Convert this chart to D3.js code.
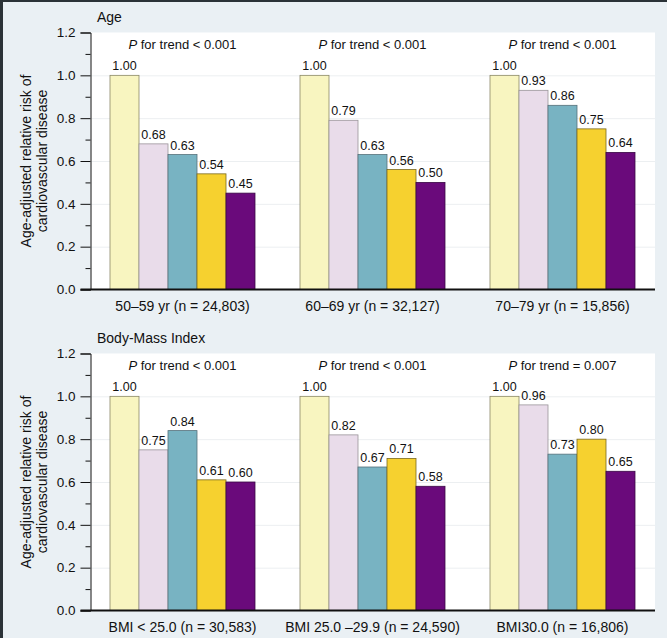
<!DOCTYPE html>
<html><head><meta charset="utf-8">
<script src="https://cdn.jsdelivr.net/npm/d3@7"></script>
<style>
html,body{margin:0;padding:0;background:#eaf0f4;}
svg{display:block;font-family:Arial,"Liberation Sans",sans-serif;}
</style></head>
<body>
<svg id="chart" width="667" height="638"></svg>
<script>
// ---- data ----
const series = ["s1","s2","s3","s4","s5"];
const seriesColors = ["#f8f5c0","#e9dcea","#78b3c2","#f6d12f","#6a0a7b"];
const seriesStroke = ["#8a8766","#9a949a","#55707a","#7a6a20","#3a0845"];

const ageTitle = "Age";
const ageGroups = ["50\u201359 yr (n = 24,803)","60\u201369 yr (n = 32,127)","70\u201379 yr (n = 15,856)"];
const ageValues = [
  [1.00,0.68,0.63,0.54,0.45],
  [1.00,0.79,0.63,0.56,0.50],
  [1.00,0.93,0.86,0.75,0.64]
];
const ageTrend = ["< 0.001","< 0.001","< 0.001"];

const bmiTitle = "Body-Mass Index";
const bmiGroups = ["BMI < 25.0 (n = 30,583)","BMI 25.0 \u201329.9 (n = 24,590)","BMI30.0 (n = 16,806)"];
const bmiValues = [
  [1.00,0.75,0.84,0.61,0.60],
  [1.00,0.82,0.67,0.71,0.58],
  [1.00,0.96,0.73,0.80,0.65]
];
const bmiTrend = ["< 0.001","< 0.001","= 0.007"];

const yTicks = [0,0.2,0.4,0.6,0.8,1.0,1.2];
const yMinorTicks = [0.1,0.3,0.5,0.7,0.9,1.1];
const yLabelLines = ["Age-adjusted relative risk of","cardiovascular disease"];

// ---- drawing ----
const svg = d3.select("#chart");
svg.append("rect").attr("x",0).attr("y",0).attr("width",667).attr("height",638).attr("fill","#eaf0f4");
svg.append("rect").attr("x",0).attr("y",0).attr("width",667).attr("height",2).attr("fill","#2b3237");
svg.append("rect").attr("x",0).attr("y",0).attr("width",3).attr("height",638).attr("fill","#2b3237");

const plotLeft = 90.5, plotRight = 655;

function panel(top, bottom, title, groups, values, trends){
  const g = svg.append("g");
  const y = d3.scaleLinear().domain([0,1.2]).range([bottom, top]);
  const x0 = d3.scaleBand().domain(groups).range([87.5, 657.5]).padding(0);
  const x1 = d3.scaleBand().domain(series).range([0, x0.bandwidth()]).paddingInner(0).paddingOuter(22.5/29);

  // plot background
  g.append("rect").attr("x",plotLeft).attr("y",y(1.2)).attr("width",plotRight-plotLeft)
    .attr("height",y(0)-y(1.2)).attr("fill","#ffffff");
  // faint gridlines
  g.selectAll("line.grid").data(yTicks.filter(d=>d>0 && d<1.2)).join("line")
    .attr("class","grid").attr("x1",plotLeft).attr("x2",plotRight)
    .attr("y1",d=>y(d)+0.5).attr("y2",d=>y(d)+0.5)
    .attr("stroke","#eceff1").attr("stroke-width",1);

  // title
  g.append("text").attr("x",97).attr("y",top-11).attr("font-size",14).attr("fill","#111").text(title);

  // bars
  groups.forEach((grp,gi)=>{
    const gg = g.append("g").attr("transform",`translate(${x0(grp)},0)`);
    gg.selectAll("rect").data(values[gi]).join("rect")
      .attr("x",(d,i)=>x1(series[i]))
      .attr("width",x1.bandwidth())
      .attr("y",d=>y(d))
      .attr("height",d=>y(0)-y(d))
      .attr("fill",(d,i)=>seriesColors[i])
      .attr("stroke",(d,i)=>seriesStroke[i])
      .attr("stroke-width",0.8);
    gg.selectAll("text.val").data(values[gi]).join("text")
      .attr("class","val")
      .attr("x",(d,i)=>x1(series[i])+x1.bandwidth()/2)
      .attr("y",d=>y(d)-5)
      .attr("text-anchor","middle").attr("font-size",12.5).attr("fill","#111")
      .text(d=>d.toFixed(2));
    const t = gg.append("text").attr("x",x0.bandwidth()/2).attr("y",top+16)
      .attr("text-anchor","middle").attr("font-size",13).attr("fill","#111");
    t.append("tspan").attr("font-style","italic").text("P");
    t.append("tspan").text(" for trend " + trends[gi]);
    // category label
    gg.append("text").attr("x",x0.bandwidth()/2).attr("y",bottom+21)
      .attr("text-anchor","middle").attr("font-size",14).attr("fill","#111").text(grp);
  });

  // y axis
  const axis = d3.axisLeft(y).tickValues(yTicks).tickFormat(d3.format(".1f")).tickSize(10).tickPadding(5);
  const ag = g.append("g").attr("transform",`translate(${plotLeft},0)`).call(axis);
  ag.select(".domain").attr("stroke","#111").attr("stroke-width",1);
  ag.selectAll(".tick line").attr("stroke","#111");
  ag.selectAll(".tick text").attr("font-size",13.5).attr("fill","#111").attr("font-family","Arial, 'Liberation Sans', sans-serif");
  const minor = d3.axisLeft(y).tickValues(yMinorTicks).tickFormat("").tickSize(5);
  const mg = g.append("g").attr("transform",`translate(${plotLeft},0)`).call(minor);
  mg.select(".domain").remove();
  mg.selectAll(".tick line").attr("stroke","#111");

  // x axis line
  g.append("line").attr("x1",80.5).attr("x2",plotRight).attr("y1",y(0)).attr("y2",y(0))
    .attr("stroke","#111").attr("stroke-width",2);

  // y label
  const cy = (top+bottom)/2;
  const yl = g.append("text").attr("transform",`translate(31,${cy}) rotate(-90)`)
    .attr("text-anchor","middle").attr("font-size",14).attr("fill","#111");
  yLabelLines.forEach((l,i)=>{
    yl.append("tspan").attr("x",0).attr("dy",i===0?0:16).text(l);
  });
}

panel(32.5, 289.5, ageTitle, ageGroups, ageValues, ageTrend);
panel(353.5, 610.5, bmiTitle, bmiGroups, bmiValues, bmiTrend);
</script>
</body></html>
